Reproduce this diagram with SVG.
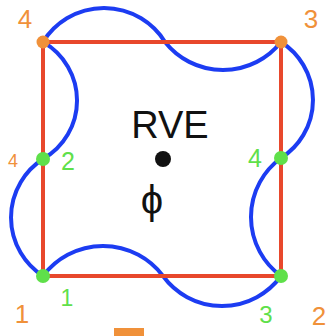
<svg xmlns="http://www.w3.org/2000/svg" width="326" height="336" viewBox="0 0 326 336">
<style>
.blue{fill:none;stroke:#1c3cf2;stroke-width:4;stroke-linecap:round}
.red{fill:none;stroke:#e8482c;stroke-width:4}
.or{fill:#f0913a}
.gr{fill:#5fe04a}
.t{font-family:"Liberation Sans",Arial,sans-serif;text-anchor:middle}
</style>
<rect width="326" height="336" fill="#ffffff"/>
<g id="connectors">
<path class="blue" d="M43,42 A71.7,71.7 0 0 1 165,42 A74,74 0 0 0 281,42"/>
<path class="blue" d="M281,42 A68.6,68.6 0 0 1 281,158 A73,73 0 0 0 281,276"/>
<path class="blue" d="M43,276 A75,75 0 0 1 163,276 A73,73 0 0 0 281,276"/>
<path class="blue" d="M43,42 A67.3,67.3 0 0 1 43,159 A69.5,69.5 0 0 0 43,276"/>
<rect class="red" x="43" y="42" width="238" height="234"/>
</g>
<g id="node-tl"><circle class="or" cx="43" cy="42" r="6.5"/><text class="t or" x="25" y="28" font-size="26">4</text></g>
<g id="node-tr"><circle class="or" cx="281" cy="42" r="6.5"/><text class="t or" x="311" y="28" font-size="26">3</text></g>
<g id="node-lm"><circle class="gr" cx="43" cy="159" r="7"/><text class="t gr" x="68" y="170" font-size="25">2</text><text class="t or" x="13" y="167" font-size="18">4</text></g>
<g id="node-rm"><circle class="gr" cx="281" cy="158" r="7"/><text class="t gr" x="255" y="167" font-size="25">4</text></g>
<g id="node-bl"><circle class="gr" cx="43" cy="276" r="7"/><text class="t gr" x="67" y="306" font-size="23">1</text><text class="t or" x="22" y="323" font-size="26">1</text></g>
<g id="node-br"><circle class="gr" cx="281" cy="276" r="7"/><text class="t gr" x="266" y="323" font-size="24">3</text><text class="t or" x="319" y="325" font-size="26">2</text></g>
<g id="center"><text class="t" x="170" y="138" font-size="38" fill="#111">RVE</text><circle cx="163" cy="159" r="8" fill="#111"/><text class="t" x="152" y="214" font-size="40" fill="#111">ϕ</text></g>
<rect x="114" y="328" width="30" height="8" fill="#f0913a"/>
</svg>
